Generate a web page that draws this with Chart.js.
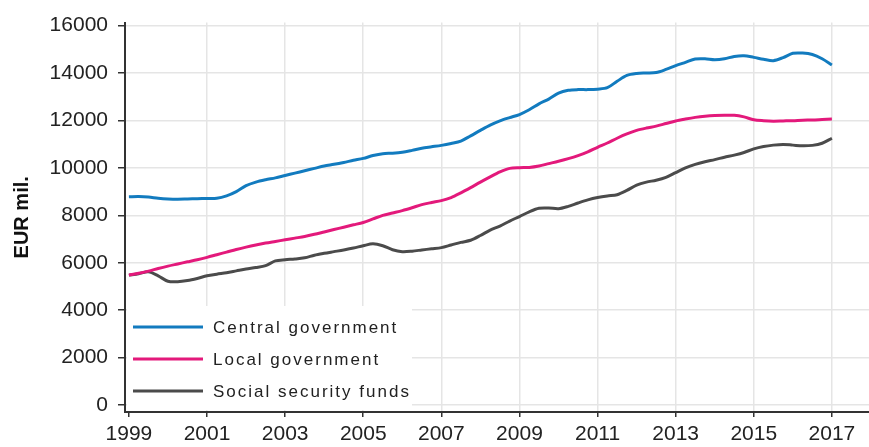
<!DOCTYPE html>
<html lang="en">
<head>
    <meta charset="UTF-8">
    <title>General government expenditure</title>
    <script src="https://cdn.jsdelivr.net/npm/chart.js"></script>
    <style>
        body {
            margin: 0;
            background: #ffffff;
        }
        .chart-container {
            position: relative;
            width: 869px;
            height: 447px;
        }
    </style>
</head>
<body>
    <div class="chart-container">
        <canvas id="govChart"></canvas>
    </div>
    <script>
        // quarterly periods
        const quarters = [
            '1999Q1', '1999Q2', '1999Q3', '1999Q4',
            '2000Q1', '2000Q2', '2000Q3', '2000Q4',
            '2001Q1', '2001Q2', '2001Q3', '2001Q4',
            '2002Q1', '2002Q2', '2002Q3', '2002Q4',
            '2003Q1', '2003Q2', '2003Q3', '2003Q4',
            '2004Q1', '2004Q2', '2004Q3', '2004Q4',
            '2005Q1', '2005Q2', '2005Q3', '2005Q4',
            '2006Q1', '2006Q2', '2006Q3', '2006Q4',
            '2007Q1', '2007Q2', '2007Q3', '2007Q4',
            '2008Q1', '2008Q2', '2008Q3', '2008Q4',
            '2009Q1', '2009Q2', '2009Q3', '2009Q4',
            '2010Q1', '2010Q2', '2010Q3', '2010Q4',
            '2011Q1', '2011Q2', '2011Q3', '2011Q4',
            '2012Q1', '2012Q2', '2012Q3', '2012Q4',
            '2013Q1', '2013Q2', '2013Q3', '2013Q4',
            '2014Q1', '2014Q2', '2014Q3', '2014Q4',
            '2015Q1', '2015Q2', '2015Q3', '2015Q4',
            '2016Q1', '2016Q2', '2016Q3', '2016Q4',
            '2017Q1'
        ];

        const centralGov = [
            8780, 8790, 8770, 8720,
            8690, 8680, 8690, 8700,
            8710, 8720, 8820, 9000,
            9250, 9400, 9500, 9580,
            9680, 9780, 9880, 9980,
            10080, 10150, 10230, 10320,
            10400, 10520, 10600, 10620,
            10660, 10740, 10830, 10890,
            10950, 11030, 11130, 11350,
            11580, 11800, 11980, 12120,
            12250, 12450, 12700, 12900,
            13150, 13270, 13300, 13300,
            13320, 13380, 13650, 13900,
            13980, 14000, 14020, 14150,
            14310, 14450, 14590, 14600,
            14560, 14600, 14700, 14730,
            14660, 14580, 14520, 14650,
            14830, 14840, 14780, 14600,
            14340
        ];

        const localGov = [
            5480, 5560, 5650, 5760,
            5860, 5950, 6040, 6130,
            6230, 6340, 6450, 6560,
            6660, 6750, 6830, 6900,
            6970, 7040, 7110, 7200,
            7300, 7400, 7500, 7600,
            7700, 7850, 8000, 8100,
            8200, 8320, 8450, 8540,
            8620, 8750, 8950, 9170,
            9400, 9620, 9830, 9980,
            10010, 10020, 10080, 10180,
            10280, 10390, 10520, 10680,
            10870, 11050, 11250, 11430,
            11580, 11680, 11760, 11870,
            11980, 12060, 12130, 12180,
            12210, 12220, 12220, 12150,
            12030, 11990, 11970, 11980,
            11990, 12010, 12020, 12040,
            12060
        ];

        const socialSecurity = [
            5480, 5540, 5620, 5450,
            5220, 5200, 5250, 5340,
            5450, 5520, 5580, 5660,
            5740, 5800, 5880, 6080,
            6130, 6160, 6210, 6320,
            6400, 6470, 6540, 6620,
            6720, 6800, 6720, 6550,
            6470, 6490, 6540, 6590,
            6640, 6750, 6860, 6950,
            7150, 7380, 7550, 7760,
            7950, 8150, 8300, 8310,
            8280, 8380, 8520, 8650,
            8750, 8820, 8870, 9050,
            9270, 9400, 9480, 9600,
            9800, 10000, 10150, 10260,
            10350, 10450, 10540, 10650,
            10800, 10900, 10960, 10990,
            10960, 10930, 10950, 11040,
            11250
        ];

        const seriesNames = ['Central government', 'Local government', 'Social security funds'];
        const seriesColors = ['#127bbf', '#e3197b', '#4b4b4b'];
        const yTicks = [0, 2000, 4000, 6000, 8000, 10000, 12000, 14000, 16000];
        const xTicks = [1999, 2001, 2003, 2005, 2007, 2009, 2011, 2013, 2015, 2017];

        // '2003Q3' -> 2003.5
        function quarterToX(q) {
            return parseInt(q.slice(0, 4)) + (parseInt(q.slice(5)) - 1) / 4;
        }

        function toPoints(values) {
            return values.map((v, i) => ({ x: quarterToX(quarters[i]), y: v }));
        }

        const allSeries = [centralGov, localGov, socialSecurity];

        // legend drawn inside the plot, bottom left, on a white box
        const insideLegend = {
            id: 'insideLegend',
            beforeDatasetsDraw(chart) {
                const ctx = chart.ctx;
                const area = chart.chartArea;
                ctx.save();
                ctx.fillStyle = '#ffffff';
                ctx.fillRect(area.left + 2, 306, 412 - area.left - 2, area.bottom - 2 - 306);
                ctx.font = '17px "Liberation Sans", Arial, sans-serif';
                ctx.letterSpacing = '2px';
                ctx.textBaseline = 'middle';
                ctx.fillStyle = '#222222';
                const rows = [327, 359, 391];
                seriesNames.forEach((name, i) => {
                    ctx.strokeStyle = seriesColors[i];
                    ctx.lineWidth = 3;
                    ctx.beginPath();
                    ctx.moveTo(133, rows[i]);
                    ctx.lineTo(203, rows[i]);
                    ctx.stroke();
                    ctx.fillText(name, 213, rows[i] + 1);
                });
                ctx.restore();
            }
        };

        const config = {
            type: 'line',
            data: {
                datasets: allSeries.map((vals, i) => ({
                    label: seriesNames[i],
                    data: toPoints(vals),
                    borderColor: seriesColors[i],
                    backgroundColor: seriesColors[i],
                    borderWidth: 3,
                    pointRadius: 0,
                    tension: 0.3,
                    fill: false
                }))
            },
            options: {
                responsive: true,
                maintainAspectRatio: false,
                animation: false,
                layout: { padding: { top: 20, right: 0, left: 0, bottom: 0 } },
                plugins: {
                    legend: { display: false },
                    tooltip: { enabled: false }
                },
                scales: {
                    x: {
                        type: 'linear',
                        min: 1998.9,
                        max: 2017.95,
                        afterBuildTicks: (scale) => {
                            scale.ticks = xTicks.map(v => ({ value: v }));
                        },
                        afterFit: (scale) => { scale.height = 35; },
                        ticks: {
                            color: '#222',
                            font: { family: '"Liberation Sans", Arial, sans-serif', size: 21 },
                            padding: 5,
                            maxRotation: 0,
                            callback: (v) => String(v)
                        },
                        grid: {
                            color: (c) => (c.tick && c.tick.value === 1999) ? 'rgba(0,0,0,0)' : '#e5e5e5',
                            lineWidth: 1.5,
                            tickColor: '#333',
                            tickLength: 5
                        },
                        border: { display: true, color: '#333', width: 2 }
                    },
                    y: {
                        min: -290,
                        max: 16125,
                        afterBuildTicks: (scale) => {
                            scale.ticks = yTicks.map(v => ({ value: v }));
                        },
                        afterFit: (scale) => { scale.width = 125; },
                        ticks: {
                            color: '#222',
                            font: { family: '"Liberation Sans", Arial, sans-serif', size: 21 },
                            padding: 10,
                            callback: (v) => String(v)
                        },
                        grid: {
                            color: '#e5e5e5',
                            lineWidth: 1.5,
                            tickColor: '#333',
                            tickLength: 7
                        },
                        border: { display: true, color: '#333', width: 2 },
                        title: {
                            display: true,
                            text: 'EUR mil.',
                            color: '#111',
                            font: { family: '"Liberation Sans", Arial, sans-serif', size: 20, weight: 'bold' },
                            padding: { top: 10, bottom: 0 }
                        }
                    }
                }
            },
            plugins: [insideLegend]
        };

        new Chart(document.getElementById('govChart'), config);
    </script>
</body>
</html>
